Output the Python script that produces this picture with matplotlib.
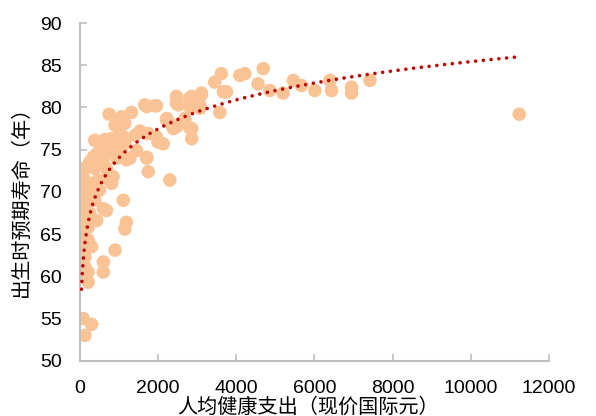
import numpy as np
import matplotlib
matplotlib.use("Agg")
import matplotlib.pyplot as plt

# Health expenditure per capita (current international $) and life expectancy (years)
spend = [85, 300, 130,
         210, 40, 210, 130, 40, 130, 600, 600, 900,
         300, 85, 40, 210, 85, 40, 210, 170, 85, 300, 430,
         1190, 1150, 600, 680, 130, 380, 1110, 40, 210, 170,
         85, 260, 470, 680, 850, 810, 2300,
         130, 380, 680, 300, 600, 510, 340, 470, 430,
         770, 1020, 1190, 1450, 1280, 1710, 1750, 1710,
         380, 640, 810, 1150, 1110, 1110, 1410, 1750, 1540, 1960, 2130, 2000,
         900, 1150, 1020, 750, 1070, 1320,
         1660, 1960, 2470, 2810, 1710, 1920,
         2220, 2390, 2690, 2860, 2860, 3580, 2220, 2350, 2470, 2810,
         2470, 2810, 3110, 2520, 3070, 2860, 3070,
         3450, 3620, 3670, 3750, 4090, 4220, 4690, 4560, 4860, 5200, 5460, 5670, 6010, 3110,
         6400, 6440, 6950, 6950, 7420, 11240,
         250, 550, 900, 950, 150, 250, 500]
life = [55.0, 54.3, 53.0,
        59.3, 60.5, 60.5, 61.1, 62.3, 62.3, 61.7, 60.5, 63.1,
        63.5, 63.9, 64.6, 64.3, 65.1, 65.8, 65.8, 66.0, 67.0, 66.8, 66.6,
        66.4, 65.6, 68.0, 67.8, 69.0, 69.0, 69.0, 70.0, 70.0, 70.6,
        71.8, 71.0, 71.4, 71.6, 71.8, 71.0, 71.4,
        72.8, 72.8, 72.8, 73.0, 73.8, 73.9, 74.1, 74.5, 74.5,
        74.9, 74.5, 73.8, 74.9, 74.0, 74.0, 72.4, 74.1,
        76.1, 76.2, 76.3, 75.9, 76.5, 75.5, 76.7, 76.9, 77.2, 76.5, 75.7, 75.9,
        77.9, 78.1, 77.5, 79.2, 78.9, 79.4,
        80.3, 80.2, 80.5, 80.1, 80.1, 80.2,
        78.7, 77.5, 78.7, 77.5, 76.3, 79.4, 78.5, 77.9, 77.7, 77.6,
        81.3, 81.1, 81.5, 80.3, 80.3, 81.3, 79.9,
        83.0, 84.0, 81.85, 81.85, 83.8, 84.0, 84.6, 82.8, 82.0, 81.7, 83.2, 82.6, 82.0, 81.7,
        83.2, 82.0, 82.4, 81.7, 83.2, 79.2,
        73.5, 75.2, 75.8, 74.0, 68.2, 67.5, 70.2]

# logarithmic trend line y = a*ln(x) + b as shown on the chart
trend_a = 4.946
trend_b = 39.87
trend_x_start = 43
trend_x_end = 11180

x_ticks = [0, 2000, 4000, 6000, 8000, 10000, 12000]
y_ticks = [50, 55, 60, 65, 70, 75, 80, 85, 90]
x_label = "人均健康支出（现价国际元）"
y_label = "出生时预期寿命（年）"

plt.rcParams['font.family'] = ['Liberation Sans', 'Noto Sans CJK SC', 'DejaVu Sans']

fig = plt.figure(figsize=(5.96, 4.16), dpi=100)
ax = fig.add_axes([0.134, 0.1329, 0.787, 0.8118])

xs = np.array(spend, dtype=float)
ys = np.array(life, dtype=float)
ax.scatter(xs, ys, s=95, color='#F9C395', edgecolors='none', zorder=2)

xt = np.linspace(trend_x_start, trend_x_end, 600)
ax.plot(xt, trend_a * np.log(xt) + trend_b, color='#C00000', linewidth=2.6,
        linestyle=(0, (0.01, 2.15)), dash_capstyle='round', zorder=3)

ax.set_xlim(0, 12000)
ax.set_ylim(50, 90)
ax.set_xticks(x_ticks)
ax.set_yticks(y_ticks)
ax.tick_params(direction='in', length=5, width=1.2, color='#BFBFBF',
               labelsize=14, pad=13, labelcolor='black')
ax.tick_params(axis='x', pad=14)
for side in ['top', 'right']:
    ax.spines[side].set_visible(False)
for side in ['left', 'bottom']:
    ax.spines[side].set_color('#BFBFBF')
    ax.spines[side].set_linewidth(1.5)

ax.set_xlabel(x_label, fontsize=14.5, family=['Noto Sans CJK SC'])
ax.xaxis.set_label_coords(0.486, -0.137)
ax.xaxis.label.set_va('center')
ax.set_ylabel(y_label, fontsize=14.5, family=['Noto Sans CJK SC'])
ax.yaxis.set_label_coords(-0.102, 0.488)

fig.savefig("out.png", dpi=100)
